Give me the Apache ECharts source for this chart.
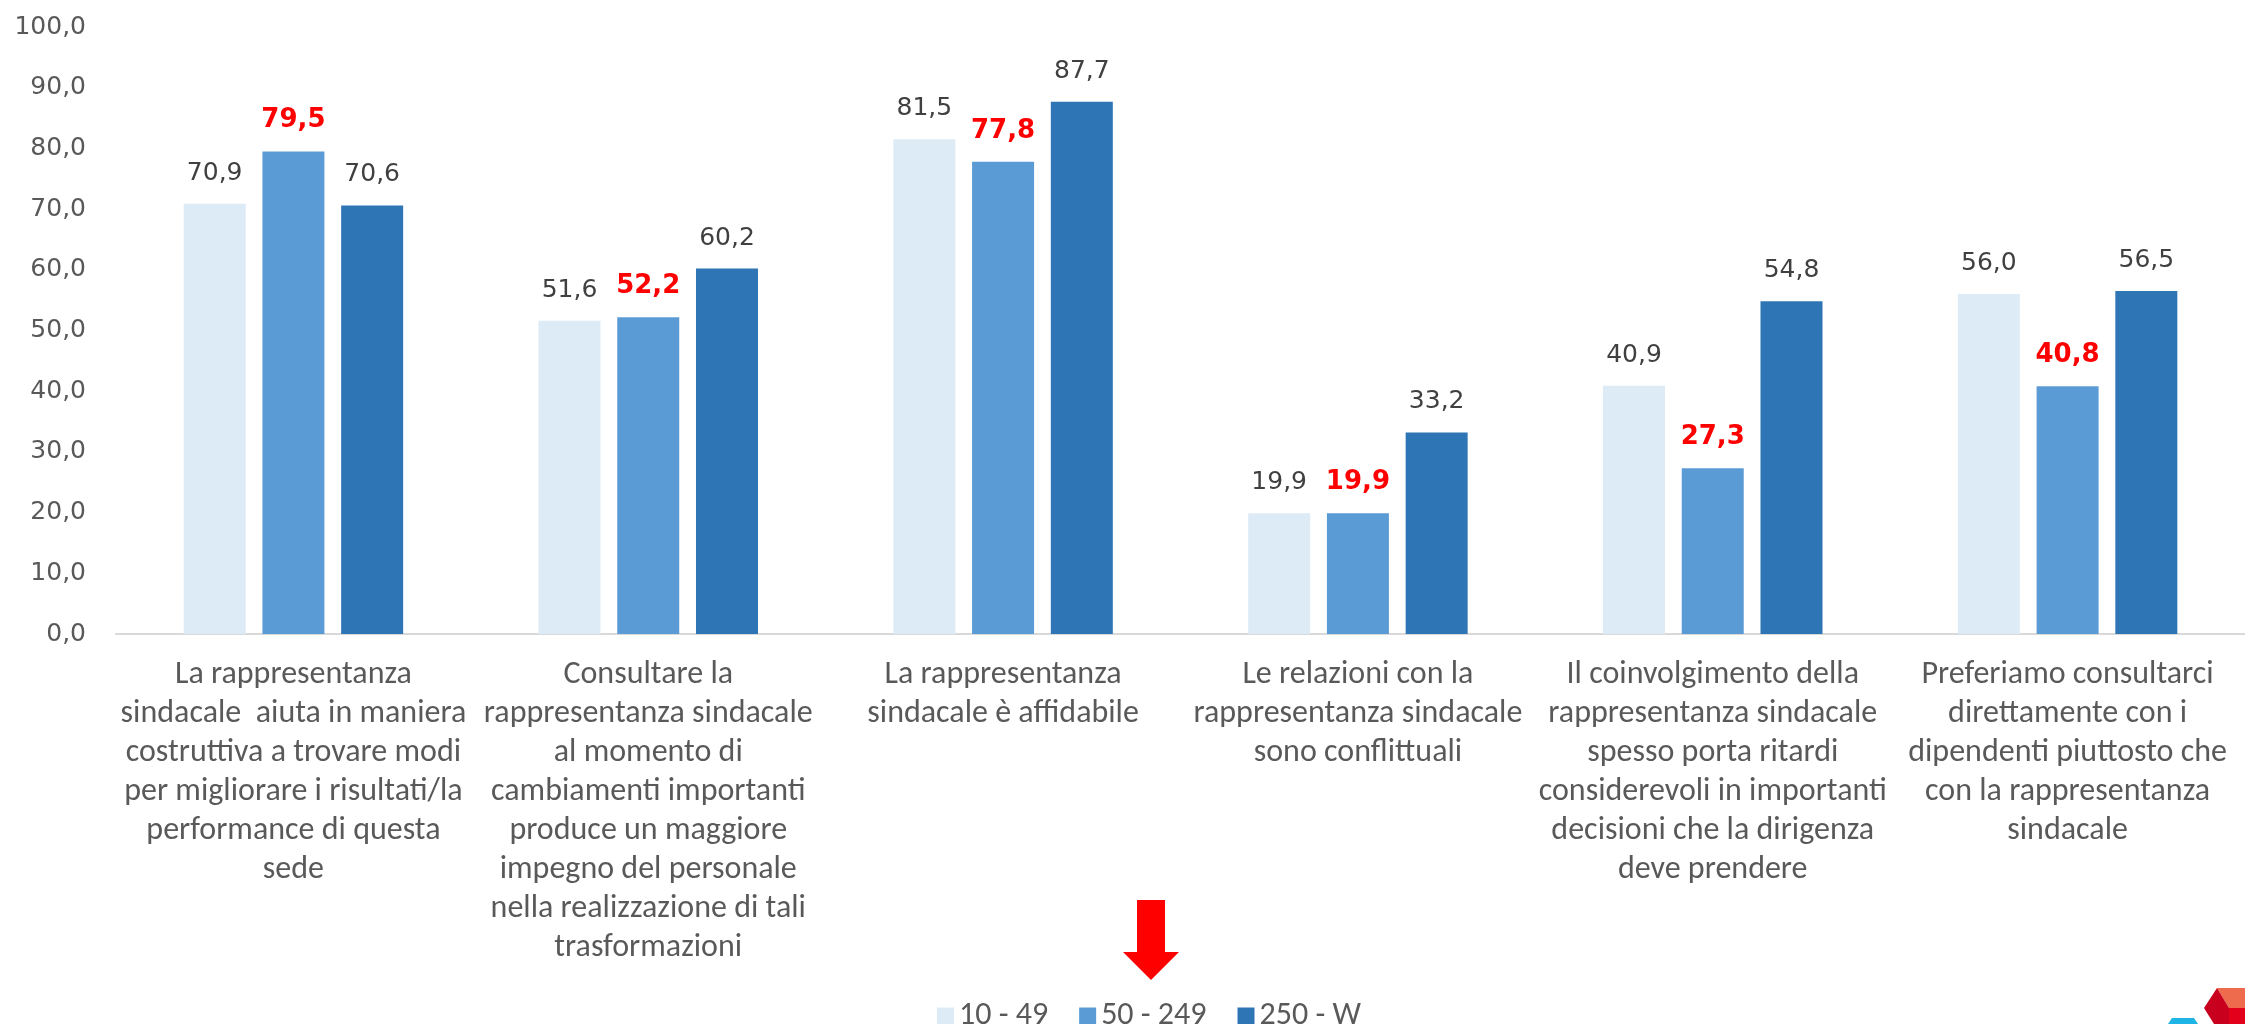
<!DOCTYPE html>
<html>
<head>
<meta charset="utf-8">
<script src="https://cdn.jsdelivr.net/npm/echarts@6/dist/echarts.min.js"></script>
<style>
html,body{margin:0;padding:0;background:#fff;}
#chart{width:2245px;height:1024px;}
</style>
</head>
<body>
<div id="chart"></div>
<script>
const categories = [
  "La rappresentanza\nsindacale  aiuta in maniera\ncostruttiva a trovare modi\nper migliorare i risultati/la\nperformance di questa\nsede",
  "Consultare la\nrappresentanza sindacale\nal momento di\ncambiamenti importanti\nproduce un maggiore\nimpegno del personale\nnella realizzazione di tali\ntrasformazioni",
  "La rappresentanza\nsindacale è affidabile",
  "Le relazioni con la\nrappresentanza sindacale\nsono conflittuali",
  "Il coinvolgimento della\nrappresentanza sindacale\nspesso porta ritardi\nconsiderevoli in importanti\ndecisioni che la dirigenza\ndeve prendere",
  "Preferiamo consultarci\ndirettamente con i\ndipendenti piuttosto che\ncon la rappresentanza\nsindacale"
];
const seriesNames = ["10 - 49", "50 - 249", "250 - W"];
const values_10_49 = [70.9, 51.6, 81.5, 19.9, 40.9, 56.0];
const values_50_249 = [79.5, 52.2, 77.8, 19.9, 27.3, 40.8];
const values_250_W = [70.6, 60.2, 87.7, 33.2, 54.8, 56.5];
const yTicks = {min: 0, max: 100, interval: 10};

const colors = ["#DDEBF7", "#5B9BD5", "#2E75B6"];
const calibri = 'Carlito, Calibri, "Liberation Sans Narrow", "Open Sans", sans-serif';
const verdana = '"DejaVu Sans", Verdana, sans-serif';
const fmt = v => v.toFixed(1).replace('.', ',');

const chart = echarts.init(document.getElementById('chart'), null, {renderer: 'canvas'});

function barSeries(name, data, color, highlight) {
  return {
    name: name,
    type: 'bar',
    data: data,
    barWidth: 62,
    barGap: '27%',
    itemStyle: {color: color},
    label: {
      show: true,
      position: 'top',
      distance: 18,
      formatter: p => fmt(p.value),
      fontFamily: verdana,
      fontSize: highlight ? 26 : 25,
      fontWeight: highlight ? 'bold' : 'normal',
      color: highlight ? '#FF0000' : '#404040'
    }
  };
}

chart.setOption({
  animation: false,
  backgroundColor: '#ffffff',
  grid: {left: 116, top: 27, width: 2142, height: 607},
  legend: {
    data: seriesNames,
    left: 932,
    top: 995,
    icon: 'rect',
    itemWidth: 17,
    itemHeight: 17,
    itemGap: 31,
    textStyle: {fontFamily: calibri, fontSize: 32, color: '#595959'}
  },
  xAxis: {
    type: 'category',
    data: categories,
    axisLine: {show: true, lineStyle: {color: '#D9D9D9', width: 2}},
    axisTick: {show: false},
    axisLabel: {
      interval: 0,
      margin: 21,
      fontFamily: calibri,
      fontSize: 32,
      lineHeight: 39,
      color: '#595959',
      align: 'center'
    }
  },
  yAxis: {
    type: 'value',
    min: yTicks.min,
    max: yTicks.max,
    interval: yTicks.interval,
    splitLine: {show: false},
    axisLine: {show: false},
    axisTick: {show: false},
    axisLabel: {
      margin: 30,
      formatter: v => fmt(v),
      fontFamily: verdana,
      fontSize: 25,
      color: '#595959'
    }
  },
  series: [
    barSeries(seriesNames[0], values_10_49, colors[0], false),
    barSeries(seriesNames[1], values_50_249, colors[1], true),
    barSeries(seriesNames[2], values_250_W, colors[2], false)
  ],
  graphic: [
    {
      type: 'polygon',
      shape: {points: [[1137,900],[1165,900],[1165,952],[1179,952],[1151,980],[1123,952],[1137,952]]},
      style: {fill: '#FF0000'}
    },
    {type: 'polygon', shape: {points: [[2217,988],[2245,988],[2245,1008],[2229,1008]]}, style: {fill: '#EE6C4D'}},
    {type: 'polygon', shape: {points: [[2217,988],[2229,1008],[2229,1024],[2214,1024],[2204,1008]]}, style: {fill: '#C8001E'}},
    {type: 'polygon', shape: {points: [[2229,1008],[2245,1008],[2245,1024],[2229,1024]]}, style: {fill: '#E3001B'}},
    {type: 'polygon', shape: {points: [[2172,1018],[2194,1018],[2198,1024],[2168,1024]]}, style: {fill: '#1EB4E6'}}
  ]
});
</script>
</body>
</html>
